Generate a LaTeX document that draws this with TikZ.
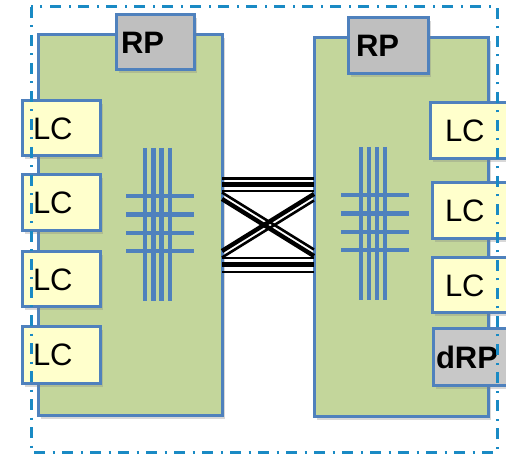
\documentclass[tikz,border=0pt]{standalone}
\usepackage{fontspec}
\setmainfont{Liberation Sans}
\usetikzlibrary{shadows}
\definecolor{chassisfill}{HTML}{C3D69B}
\definecolor{edgeblue}{HTML}{4F81BD}
\definecolor{rpgray}{HTML}{BFBFBF}
\definecolor{drpgray}{HTML}{C8C8C8}
\definecolor{lcyellow}{HTML}{FFFFCC}
\definecolor{dashblue}{HTML}{1A8AC4}
\tikzset{
  box/.style={draw=edgeblue, line width=3pt, rectangle, inner sep=0pt, outer sep=0pt,
    anchor=north west, align=left, font=\fontsize{31}{36}\selectfont,
    drop shadow={shadow xshift=2.5pt, shadow yshift=-3.5pt, opacity=0.3}},
  chassis/.style={box, fill=chassisfill},
  lcbox/.style={box, fill=lcyellow},
  rpbox/.style={box, fill=rpgray, font=\fontsize{31}{36}\selectfont\bfseries},
  drpbox/.style={box, fill=drpgray, font=\fontsize{31}{36}\selectfont\bfseries},
  bar/.style={draw=edgeblue, line width=4.8pt},
  thinlink/.style={draw=black, line width=2.4pt},
  thicklink/.style={draw=black, line width=5pt},
  diagthick/.style={draw=black, line width=4.4pt},
  diagthin/.style={draw=black, line width=2.6pt},
  frame/.style={draw=dashblue, line width=3pt, dash pattern=on 11pt off 7.5pt on 2pt off 7.5pt}
}
\begin{document}
\begin{tikzpicture}[x=1pt,y=-1pt]
\clip (0,0) rectangle (506,454);
\fill[white] (0,0) rectangle (506,454);
% chassis
\node[chassis, minimum width=184pt, minimum height=380pt] (L) at (38,35) {};
\node[chassis, minimum width=174pt, minimum height=378pt] (R) at (314,38) {};
% route processors
\node[rpbox, minimum width=78pt, minimum height=55pt, text width=78pt] (rpl) at (116,15) {\hspace*{5pt}RP};
\node[rpbox, minimum width=80pt, minimum height=56pt, text width=80pt] (rpr) at (348,18) {\hspace*{8pt}RP};
% left line cards
\node[lcbox, minimum width=78pt, minimum height=55pt, text width=78pt] (ll1) at (22,101) {\hspace*{11pt}LC};
\node[lcbox, minimum width=78pt, minimum height=56pt, text width=78pt] (ll2) at (22,175) {\hspace*{11pt}LC};
\node[lcbox, minimum width=78pt, minimum height=55pt, text width=78pt] (ll3) at (22,252) {\hspace*{11pt}LC};
\node[lcbox, minimum width=78pt, minimum height=56pt, text width=78pt] (ll4) at (22,327) {\hspace*{11pt}LC};
% right line cards
\node[lcbox, minimum width=82pt, minimum height=56pt, text width=82pt] (lr1) at (430,103) {\hspace*{15pt}LC};
\node[lcbox, minimum width=80pt, minimum height=56pt, text width=80pt] (lr2) at (432,183) {\hspace*{13pt}LC};
\node[lcbox, minimum width=80pt, minimum height=55pt, text width=80pt] (lr3) at (432,258) {\hspace*{13pt}LC};
\node[drpbox, minimum width=80pt, minimum height=56pt, text width=80pt] (drp) at (433,329) {\hspace*{3pt}dRP};
% left crossbar
\foreach \x in {145,153.3,161.7,170} \draw[bar] (\x,148) -- (\x,301);
\foreach \y in {196,214.5,233,251} \draw[bar] (126,\y) -- (194,\y);
% right crossbar
\foreach \x in {361,369,377,385} \draw[bar] (\x,147) -- (\x,300);
\foreach \y in {195,213.5,232,250} \draw[bar] (341,\y) -- (409,\y);
% fabric links between chassis
\draw[thinlink]  (L.east |- 0,178.5) -- (R.west |- 0,178.5);
\draw[thicklink] (L.east |- 0,185)   -- (R.west |- 0,185);
\draw[thinlink]  (L.east |- 0,191)   -- (R.west |- 0,191);
\draw[thinlink]  (L.east |- 0,258)   -- (R.west |- 0,258);
\draw[thicklink] (L.east |- 0,265)   -- (R.west |- 0,265);
\draw[thinlink]  (L.east |- 0,272)   -- (R.west |- 0,272);
\draw[diagthick] (L.east |- 0,199) -- (R.west |- 0,256);
\draw[diagthin]  (L.east |- 0,192.5) -- (R.west |- 0,249.5);
\draw[diagthick] (L.east |- 0,251) -- (R.west |- 0,194);
\draw[diagthin]  (L.east |- 0,257.5) -- (R.west |- 0,200.5);
% outer dash-dot frame
\draw[frame] (31,7) rectangle (497,452);
\end{tikzpicture}
\end{document}
